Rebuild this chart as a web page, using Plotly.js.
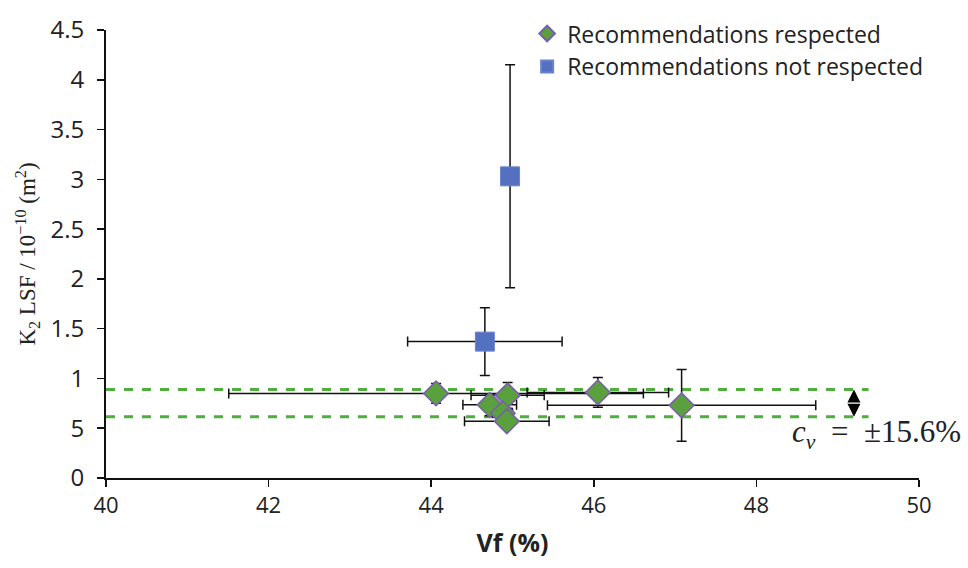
<!DOCTYPE html>
<html>
<head>
<meta charset="utf-8">
<script src="https://cdn.plot.ly/plotly-3.0.1.min.js"></script>
<style>html,body{margin:0;padding:0;background:#fff;}#chart{width:968px;height:568px;}</style>
</head>
<body>
<div id="chart"></div>
<script>
// Recommendations respected (diamonds)
const respVf    = [44.06, 44.72, 44.94, 44.88, 44.93, 46.05, 47.08];
const respK     = [0.85, 0.735, 0.83, 0.65, 0.57, 0.86, 0.73];
const respVfErr = [2.55, 0.33, 0.45, 0.12, 0.52, 0.87, 1.65];
const respKErr  = [0.10, 0.11, 0.13, 0.09, 0.07, 0.15, 0.36];

// Recommendations not respected (squares)
const notVf    = [44.97, 44.66];
const notK     = [3.03, 1.37];
const notVfErr = [0, 0.95];
const notKErr  = [1.12, 0.34];

// cv band
const bandLevels = [0.89, 0.615];
const bandX = [40, 49.38];
const arrowX = 49.2;

// ticks
const yTickVals = [0, 0.5, 1, 1.5, 2, 2.5, 3, 3.5, 4, 4.5];
const yTickText = ['0', '5', '1', '1.5', '2', '2.5', '3', '3.5', '4', '4.5'];
const xTickVals = [40, 42, 44, 46, 48, 50];

const errStyle = {color: '#111', thickness: 1.5, width: 5};
const sans = '"Open Sans", Lato, sans-serif';
const serif = '"Liberation Serif", "DejaVu Serif", serif';

const traces = [
  {
    x: respVf, y: respK, mode: 'markers', type: 'scatter',
    name: 'Recommendations respected',
    marker: {symbol: 'diamond', size: 19, color: '#5aa03c', line: {color: '#7a5cb0', width: 1.5}},
    error_x: Object.assign({type: 'data', array: respVfErr, visible: true}, errStyle),
    error_y: Object.assign({type: 'data', array: respKErr, visible: true}, errStyle)
  },
  {
    x: notVf, y: notK, mode: 'markers', type: 'scatter',
    name: 'Recommendations not respected',
    marker: {symbol: 'square', size: 19, color: '#5470c0', line: {color: '#6a84cc', width: 1}},
    error_x: Object.assign({type: 'data', array: notVfErr, visible: true}, errStyle),
    error_y: Object.assign({type: 'data', array: notKErr, visible: true}, errStyle)
  }
];

const shapes = bandLevels.map(v => ({
  type: 'line', xref: 'x', yref: 'y', x0: bandX[0], x1: bandX[1], y0: v, y1: v,
  line: {color: '#4fae3f', width: 3, dash: 'dash'}, layer: 'below'
}));

const mid = (bandLevels[0] + bandLevels[1]) / 2;
const arrows = bandLevels.map(v => ({
  x: arrowX, y: v, ax: arrowX, ay: mid, xref: 'x', yref: 'y', axref: 'x', ayref: 'y',
  showarrow: true, arrowhead: 2, arrowsize: 1, arrowwidth: 2.6, arrowcolor: '#000', text: ''
}));

const layout = {
  width: 968, height: 568,
  margin: {l: 106, r: 49, t: 22, b: 90},
  paper_bgcolor: '#fff', plot_bgcolor: '#fff',
  showlegend: true,
  legend: {x: 0.518, y: 1.04, xanchor: 'left', yanchor: 'top',
           font: {family: sans, size: 23, color: '#222'},
           bgcolor: 'rgba(0,0,0,0)', itemsizing: 'constant', tracegroupgap: 0},
  xaxis: {
    range: [40, 50], tickvals: xTickVals, ticks: 'outside', ticklen: 7, tickwidth: 1.5,
    tickcolor: '#111', showline: true, linecolor: '#111', linewidth: 2, showgrid: false, zeroline: false,
    tickfont: {family: sans, size: 22, color: '#222'},
    title: {text: '<b>Vf (%)</b>', font: {family: sans, size: 25, color: '#222'}, standoff: 16}
  },
  yaxis: {
    range: [0, 4.5], tickvals: yTickVals, ticktext: yTickText, ticks: 'outside', ticklen: 7, tickwidth: 1.5,
    tickcolor: '#111', showline: true, linecolor: '#111', linewidth: 2, showgrid: false, zeroline: false,
    tickfont: {family: sans, size: 24, color: '#222'}, ticklabelstandoff: 8,
    title: {text: 'K<sub>2</sub> LSF / 10<sup>\u221210</sup> (m<sup>2</sup>)',
            font: {family: serif, size: 23, color: '#222'}, standoff: 8}
  },
  shapes: shapes,
  annotations: arrows.concat([
    {x: 1.054, y: 0.44, xref: 'paper', yref: 'y', xanchor: 'right', yanchor: 'middle', showarrow: false,
     text: '<i>c</i><sub><i>v</i></sub>\u2002=\u2002\u00b115.6%',
     font: {family: serif, size: 31, color: '#222'}}
  ])
};

Plotly.newPlot('chart', traces, layout, {displayModeBar: false, staticPlot: true});
</script>
</body>
</html>
